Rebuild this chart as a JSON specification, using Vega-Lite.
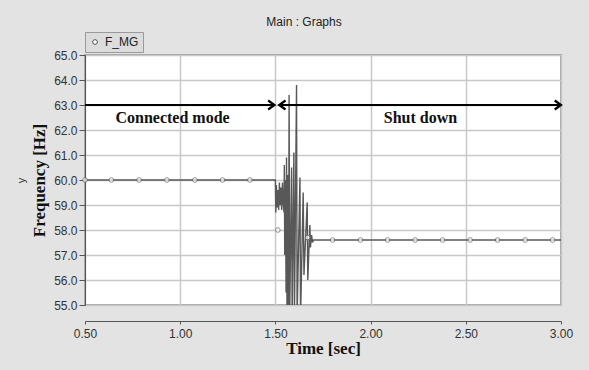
{
  "$schema": "https://vega.github.io/schema/vega-lite/v6.json",
  "width": 476,
  "height": 250,
  "autosize": {"type": "none"},
  "padding": {"left": 85, "top": 55, "right": 28, "bottom": 65},
  "background": "#e3e3e3",
  "title": {
    "text": "Main : Graphs",
    "font": "Liberation Sans",
    "fontSize": 12,
    "fontWeight": "normal",
    "color": "#222222",
    "anchor": "middle",
    "dx": -19,
    "offset": 3
  },
  "config": {
    "view": {"fill": "white", "stroke": "#8a8a8a", "strokeWidth": 1.5},
    "axis": {
      "labelFont": "Liberation Sans",
      "labelFontSize": 12,
      "labelColor": "#333333",
      "gridColor": "#c8c8c8",
      "gridWidth": 1.5,
      "gridOpacity": 1,
      "domainColor": "#555555",
      "tickColor": "#555555",
      "titleFont": "Liberation Serif",
      "titleFontWeight": "bold",
      "titleFontSize": 17,
      "titleColor": "#111111"
    }
  },
  "datasets": {
    "trace": [
      {"t": 0.5, "f": 60.0}, {"t": 1.5, "f": 60.0},
      {"t": 1.502, "f": 58.7}, {"t": 1.505, "f": 59.8}, {"t": 1.509, "f": 58.9}, {"t": 1.513, "f": 59.6},
      {"t": 1.517, "f": 58.8}, {"t": 1.521, "f": 59.9}, {"t": 1.525, "f": 59.0}, {"t": 1.529, "f": 59.7},
      {"t": 1.533, "f": 58.8}, {"t": 1.537, "f": 59.9}, {"t": 1.541, "f": 59.1}, {"t": 1.545, "f": 58.7},
      {"t": 1.547, "f": 60.6}, {"t": 1.549, "f": 57.0}, {"t": 1.553, "f": 60.0}, {"t": 1.556, "f": 55.5},
      {"t": 1.5585, "f": 60.9}, {"t": 1.561, "f": 54.5}, {"t": 1.566, "f": 60.2}, {"t": 1.569, "f": 54.5},
      {"t": 1.572, "f": 63.4}, {"t": 1.575, "f": 54.5}, {"t": 1.585, "f": 60.5}, {"t": 1.588, "f": 54.5},
      {"t": 1.597, "f": 61.1}, {"t": 1.6, "f": 54.5}, {"t": 1.611, "f": 63.8}, {"t": 1.614, "f": 54.5},
      {"t": 1.629, "f": 60.1}, {"t": 1.632, "f": 54.5}, {"t": 1.646, "f": 59.5}, {"t": 1.65, "f": 56.2},
      {"t": 1.667, "f": 59.1}, {"t": 1.67, "f": 56.0}, {"t": 1.681, "f": 58.2}, {"t": 1.684, "f": 57.3},
      {"t": 1.69, "f": 57.8}, {"t": 1.695, "f": 57.5}, {"t": 1.7, "f": 57.6}, {"t": 3.0, "f": 57.6}
    ],
    "markers": [
      {"t": 0.5, "f": 60.0}, {"t": 0.638, "f": 60.0}, {"t": 0.784, "f": 60.0}, {"t": 0.93, "f": 60.0},
      {"t": 1.077, "f": 60.0}, {"t": 1.222, "f": 60.0}, {"t": 1.366, "f": 60.0}, {"t": 1.513, "f": 58.0},
      {"t": 1.67, "f": 57.7}, {"t": 1.8, "f": 57.6}, {"t": 1.947, "f": 57.6}, {"t": 2.089, "f": 57.6},
      {"t": 2.234, "f": 57.6}, {"t": 2.378, "f": 57.6}, {"t": 2.523, "f": 57.6}, {"t": 2.667, "f": 57.6},
      {"t": 2.812, "f": 57.6}, {"t": 2.956, "f": 57.6}
    ],
    "spans": [
      {"t": 0.5, "t2": 1.495, "f": 63.0},
      {"t": 1.52, "t2": 3.0, "f": 63.0}
    ],
    "heads": [
      {"t": 1.495, "f": 63.0, "dir": "right"},
      {"t": 1.52, "f": 63.0, "dir": "left"},
      {"t": 3.0, "f": 63.0, "dir": "right"}
    ],
    "labels": [
      {"t": 0.96, "f": 62.49, "text": "Connected mode"},
      {"t": 2.262, "f": 62.49, "text": "Shut down"}
    ]
  },
  "layer": [
    {
      "data": {"name": "trace"},
      "mark": {"type": "line", "clip": true, "strokeWidth": 1.4},
      "encoding": {
        "x": {
          "field": "t", "type": "quantitative",
          "scale": {"domain": [0.5, 3.0], "nice": false, "zero": false},
          "axis": {
            "title": "Time [sec]",
            "values": [0.5, 1.0, 1.5, 2.0, 2.5, 3.0],
            "format": ".2f",
            "offset": 16,
            "tickSize": 3,
            "labelPadding": 4,
            "titlePadding": 1,
            "labelFlush": false
          }
        },
        "y": {
          "field": "f", "type": "quantitative",
          "scale": {"domain": [55, 65], "nice": false, "zero": false},
          "axis": {
            "title": "Frequency [Hz]",
            "values": [55, 56, 57, 58, 59, 60, 61, 62, 63, 64, 65],
            "format": ".1f",
            "tickSize": 6,
            "labelPadding": 2,
            "titlePadding": 5,
            "labelFlush": false
          }
        },
        "color": {
          "datum": "F_MG",
          "scale": {"range": ["#585858"]},
          "legend": {
            "title": null,
            "orient": "top",
            "offset": 3,
            "symbolType": "circle",
            "symbolSize": 22,
            "symbolStrokeWidth": 1,
            "symbolFillColor": "white",
            "symbolStrokeColor": "#555555",
            "labelFont": "Liberation Sans",
            "labelFontSize": 12,
            "labelColor": "#222222",
            "fillColor": "#dcdcdc",
            "strokeColor": "#9a9a9a",
            "padding": 4
          }
        }
      }
    },
    {
      "data": {"name": "markers"},
      "mark": {"type": "point", "shape": "circle", "filled": false, "size": 22, "stroke": "#666666", "strokeWidth": 1, "fill": "white"},
      "encoding": {
        "x": {"field": "t", "type": "quantitative"},
        "y": {
          "field": "f", "type": "quantitative",
          "axis": {
            "title": "y",
            "orient": "left",
            "titleFont": "Liberation Sans",
            "titleFontWeight": "normal",
            "titleFontSize": 11,
            "titleColor": "#333333",
            "labels": false,
            "ticks": false,
            "domain": false,
            "grid": false,
            "offset": 55,
            "titlePadding": 4
          }
        }
      }
    },
    {
      "data": {"name": "spans"},
      "mark": {"type": "rule", "color": "black", "strokeWidth": 2},
      "encoding": {
        "x": {"field": "t", "type": "quantitative"},
        "x2": {"field": "t2"},
        "y": {"field": "f", "type": "quantitative", "axis": null}
      }
    },
    {
      "data": {"name": "heads"},
      "mark": {"type": "point", "filled": false, "stroke": "black", "strokeWidth": 2.2, "size": 81, "opacity": 1},
      "encoding": {
        "x": {"field": "t", "type": "quantitative"},
        "y": {"field": "f", "type": "quantitative", "axis": null},
        "shape": {
          "field": "dir", "type": "nominal",
          "scale": {"domain": ["right", "left"], "range": ["M-1.4,-1L0,0L-1.4,1", "M1.4,-1L0,0L1.4,1"]},
          "legend": null
        }
      }
    },
    {
      "data": {"name": "labels"},
      "mark": {"type": "text", "font": "Liberation Serif", "fontWeight": "bold", "fontSize": 16, "color": "#111111", "align": "center", "baseline": "middle"},
      "encoding": {
        "x": {"field": "t", "type": "quantitative"},
        "y": {"field": "f", "type": "quantitative", "axis": null},
        "text": {"field": "text"}
      }
    }
  ],
  "resolve": {"axis": {"y": "independent"}}
}
